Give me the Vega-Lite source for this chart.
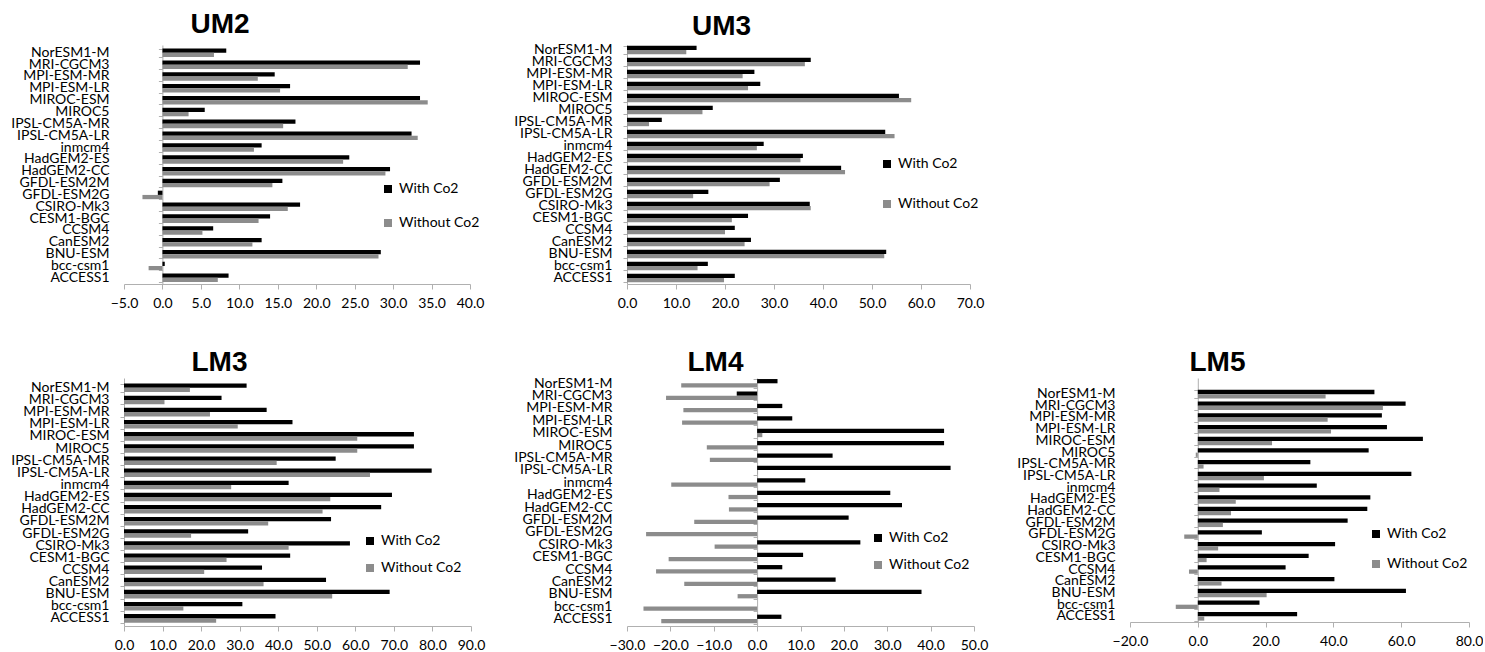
{
"$schema": "https://vega.github.io/schema/vega-lite/v6.json",
"padding": {"left": 10, "top": 11, "right": 0, "bottom": 0},
"bounds": "flush",
"columns": 3,
"spacing": {"row": 94, "column": 156},
"config": {
  "view": {"stroke": null},
  "font": "Lato",
  "axisX": {"domainColor": "#b0b0b0", "tickColor": "#b0b0b0", "tickSize": 5, "labelFont": "Lato", "labelFontSize": 14, "labelColor": "#000000", "labelPadding": 7, "labelOverlap": false, "labelFlush": false, "grid": false, "title": null, "format": ".1f"},
  "axisY": {"domain": false, "ticks": false, "labelFont": "Lato", "labelFontSize": 14, "labelColor": "#000000", "labelPadding": 15, "labelOverlap": false, "title": null, "grid": false},
  "legend": {"orient": "none", "title": null, "symbolType": "square", "symbolSize": 64, "symbolStrokeWidth": 0, "labelFont": "Lato", "labelFontSize": 14, "labelColor": "#000000"},
  "title": {"font": "Liberation Sans", "fontSize": 28, "fontWeight": "bold", "color": "#000000", "anchor": "middle", "frame": "group", "baseline": "alphabetic"}
},
"data": {"values": [
{"panel":"UM2","model":"NorESM1-M","series":"With Co2","value":8.3},{"panel":"UM2","model":"NorESM1-M","series":"Without Co2","value":6.7},
{"panel":"UM2","model":"MRI-CGCM3","series":"With Co2","value":33.5},{"panel":"UM2","model":"MRI-CGCM3","series":"Without Co2","value":31.9},
{"panel":"UM2","model":"MPI-ESM-MR","series":"With Co2","value":14.6},{"panel":"UM2","model":"MPI-ESM-MR","series":"Without Co2","value":12.4},
{"panel":"UM2","model":"MPI-ESM-LR","series":"With Co2","value":16.6},{"panel":"UM2","model":"MPI-ESM-LR","series":"Without Co2","value":15.3},
{"panel":"UM2","model":"MIROC-ESM","series":"With Co2","value":33.5},{"panel":"UM2","model":"MIROC-ESM","series":"Without Co2","value":34.5},
{"panel":"UM2","model":"MIROC5","series":"With Co2","value":5.5},{"panel":"UM2","model":"MIROC5","series":"Without Co2","value":3.4},
{"panel":"UM2","model":"IPSL-CM5A-MR","series":"With Co2","value":17.3},{"panel":"UM2","model":"IPSL-CM5A-MR","series":"Without Co2","value":15.7},
{"panel":"UM2","model":"IPSL-CM5A-LR","series":"With Co2","value":32.4},{"panel":"UM2","model":"IPSL-CM5A-LR","series":"Without Co2","value":33.2},
{"panel":"UM2","model":"inmcm4","series":"With Co2","value":12.9},{"panel":"UM2","model":"inmcm4","series":"Without Co2","value":11.9},
{"panel":"UM2","model":"HadGEM2-ES","series":"With Co2","value":24.3},{"panel":"UM2","model":"HadGEM2-ES","series":"Without Co2","value":23.5},
{"panel":"UM2","model":"HadGEM2-CC","series":"With Co2","value":29.6},{"panel":"UM2","model":"HadGEM2-CC","series":"Without Co2","value":29.0},
{"panel":"UM2","model":"GFDL-ESM2M","series":"With Co2","value":15.6},{"panel":"UM2","model":"GFDL-ESM2M","series":"Without Co2","value":14.3},
{"panel":"UM2","model":"GFDL-ESM2G","series":"With Co2","value":-0.6},{"panel":"UM2","model":"GFDL-ESM2G","series":"Without Co2","value":-2.6},
{"panel":"UM2","model":"CSIRO-Mk3","series":"With Co2","value":17.9},{"panel":"UM2","model":"CSIRO-Mk3","series":"Without Co2","value":16.3},
{"panel":"UM2","model":"CESM1-BGC","series":"With Co2","value":14.0},{"panel":"UM2","model":"CESM1-BGC","series":"Without Co2","value":12.5},
{"panel":"UM2","model":"CCSM4","series":"With Co2","value":6.6},{"panel":"UM2","model":"CCSM4","series":"Without Co2","value":5.2},
{"panel":"UM2","model":"CanESM2","series":"With Co2","value":12.9},{"panel":"UM2","model":"CanESM2","series":"Without Co2","value":11.7},
{"panel":"UM2","model":"BNU-ESM","series":"With Co2","value":28.4},{"panel":"UM2","model":"BNU-ESM","series":"Without Co2","value":28.1},
{"panel":"UM2","model":"bcc-csm1","series":"With Co2","value":0.3},{"panel":"UM2","model":"bcc-csm1","series":"Without Co2","value":-1.8},
{"panel":"UM2","model":"ACCESS1","series":"With Co2","value":8.6},{"panel":"UM2","model":"ACCESS1","series":"Without Co2","value":7.2},

{"panel":"UM3","model":"NorESM1-M","series":"With Co2","value":14.2},{"panel":"UM3","model":"NorESM1-M","series":"Without Co2","value":12.1},
{"panel":"UM3","model":"MRI-CGCM3","series":"With Co2","value":37.5},{"panel":"UM3","model":"MRI-CGCM3","series":"Without Co2","value":36.3},
{"panel":"UM3","model":"MPI-ESM-MR","series":"With Co2","value":26.0},{"panel":"UM3","model":"MPI-ESM-MR","series":"Without Co2","value":23.6},
{"panel":"UM3","model":"MPI-ESM-LR","series":"With Co2","value":27.2},{"panel":"UM3","model":"MPI-ESM-LR","series":"Without Co2","value":24.7},
{"panel":"UM3","model":"MIROC-ESM","series":"With Co2","value":55.5},{"panel":"UM3","model":"MIROC-ESM","series":"Without Co2","value":58.0},
{"panel":"UM3","model":"MIROC5","series":"With Co2","value":17.5},{"panel":"UM3","model":"MIROC5","series":"Without Co2","value":15.4},
{"panel":"UM3","model":"IPSL-CM5A-MR","series":"With Co2","value":7.1},{"panel":"UM3","model":"IPSL-CM5A-MR","series":"Without Co2","value":4.5},
{"panel":"UM3","model":"IPSL-CM5A-LR","series":"With Co2","value":52.7},{"panel":"UM3","model":"IPSL-CM5A-LR","series":"Without Co2","value":54.6},
{"panel":"UM3","model":"inmcm4","series":"With Co2","value":27.9},{"panel":"UM3","model":"inmcm4","series":"Without Co2","value":26.5},
{"panel":"UM3","model":"HadGEM2-ES","series":"With Co2","value":35.9},{"panel":"UM3","model":"HadGEM2-ES","series":"Without Co2","value":35.4},
{"panel":"UM3","model":"HadGEM2-CC","series":"With Co2","value":43.7},{"panel":"UM3","model":"HadGEM2-CC","series":"Without Co2","value":44.5},
{"panel":"UM3","model":"GFDL-ESM2M","series":"With Co2","value":31.2},{"panel":"UM3","model":"GFDL-ESM2M","series":"Without Co2","value":29.1},
{"panel":"UM3","model":"GFDL-ESM2G","series":"With Co2","value":16.6},{"panel":"UM3","model":"GFDL-ESM2G","series":"Without Co2","value":13.5},
{"panel":"UM3","model":"CSIRO-Mk3","series":"With Co2","value":37.3},{"panel":"UM3","model":"CSIRO-Mk3","series":"Without Co2","value":37.5},
{"panel":"UM3","model":"CESM1-BGC","series":"With Co2","value":24.7},{"panel":"UM3","model":"CESM1-BGC","series":"Without Co2","value":21.4},
{"panel":"UM3","model":"CCSM4","series":"With Co2","value":22.0},{"panel":"UM3","model":"CCSM4","series":"Without Co2","value":20.0},
{"panel":"UM3","model":"CanESM2","series":"With Co2","value":25.3},{"panel":"UM3","model":"CanESM2","series":"Without Co2","value":24.0},
{"panel":"UM3","model":"BNU-ESM","series":"With Co2","value":52.9},{"panel":"UM3","model":"BNU-ESM","series":"Without Co2","value":52.5},
{"panel":"UM3","model":"bcc-csm1","series":"With Co2","value":16.5},{"panel":"UM3","model":"bcc-csm1","series":"Without Co2","value":14.4},
{"panel":"UM3","model":"ACCESS1","series":"With Co2","value":22.0},{"panel":"UM3","model":"ACCESS1","series":"Without Co2","value":19.8},

{"panel":"LM3","model":"NorESM1-M","series":"With Co2","value":31.8},{"panel":"LM3","model":"NorESM1-M","series":"Without Co2","value":17.1},
{"panel":"LM3","model":"MRI-CGCM3","series":"With Co2","value":25.3},{"panel":"LM3","model":"MRI-CGCM3","series":"Without Co2","value":10.5},
{"panel":"LM3","model":"MPI-ESM-MR","series":"With Co2","value":37.0},{"panel":"LM3","model":"MPI-ESM-MR","series":"Without Co2","value":22.3},
{"panel":"LM3","model":"MPI-ESM-LR","series":"With Co2","value":43.7},{"panel":"LM3","model":"MPI-ESM-LR","series":"Without Co2","value":29.5},
{"panel":"LM3","model":"MIROC-ESM","series":"With Co2","value":75.2},{"panel":"LM3","model":"MIROC-ESM","series":"Without Co2","value":60.5},
{"panel":"LM3","model":"MIROC5","series":"With Co2","value":75.2},{"panel":"LM3","model":"MIROC5","series":"Without Co2","value":60.5},
{"panel":"LM3","model":"IPSL-CM5A-MR","series":"With Co2","value":54.9},{"panel":"LM3","model":"IPSL-CM5A-MR","series":"Without Co2","value":39.6},
{"panel":"LM3","model":"IPSL-CM5A-LR","series":"With Co2","value":79.8},{"panel":"LM3","model":"IPSL-CM5A-LR","series":"Without Co2","value":63.8},
{"panel":"LM3","model":"inmcm4","series":"With Co2","value":42.7},{"panel":"LM3","model":"inmcm4","series":"Without Co2","value":27.8},
{"panel":"LM3","model":"HadGEM2-ES","series":"With Co2","value":69.5},{"panel":"LM3","model":"HadGEM2-ES","series":"Without Co2","value":53.5},
{"panel":"LM3","model":"HadGEM2-CC","series":"With Co2","value":66.7},{"panel":"LM3","model":"HadGEM2-CC","series":"Without Co2","value":51.5},
{"panel":"LM3","model":"GFDL-ESM2M","series":"With Co2","value":53.7},{"panel":"LM3","model":"GFDL-ESM2M","series":"Without Co2","value":37.4},
{"panel":"LM3","model":"GFDL-ESM2G","series":"With Co2","value":32.2},{"panel":"LM3","model":"GFDL-ESM2G","series":"Without Co2","value":17.4},
{"panel":"LM3","model":"CSIRO-Mk3","series":"With Co2","value":58.6},{"panel":"LM3","model":"CSIRO-Mk3","series":"Without Co2","value":42.7},
{"panel":"LM3","model":"CESM1-BGC","series":"With Co2","value":43.1},{"panel":"LM3","model":"CESM1-BGC","series":"Without Co2","value":26.6},
{"panel":"LM3","model":"CCSM4","series":"With Co2","value":35.8},{"panel":"LM3","model":"CCSM4","series":"Without Co2","value":20.8},
{"panel":"LM3","model":"CanESM2","series":"With Co2","value":52.4},{"panel":"LM3","model":"CanESM2","series":"Without Co2","value":36.2},
{"panel":"LM3","model":"BNU-ESM","series":"With Co2","value":68.9},{"panel":"LM3","model":"BNU-ESM","series":"Without Co2","value":54.0},
{"panel":"LM3","model":"bcc-csm1","series":"With Co2","value":30.7},{"panel":"LM3","model":"bcc-csm1","series":"Without Co2","value":15.4},
{"panel":"LM3","model":"ACCESS1","series":"With Co2","value":39.3},{"panel":"LM3","model":"ACCESS1","series":"Without Co2","value":23.9},

{"panel":"LM4","model":"NorESM1-M","series":"With Co2","value":4.7},{"panel":"LM4","model":"NorESM1-M","series":"Without Co2","value":-17.5},
{"panel":"LM4","model":"MRI-CGCM3","series":"With Co2","value":-4.7},{"panel":"LM4","model":"MRI-CGCM3","series":"Without Co2","value":-21.0},
{"panel":"LM4","model":"MPI-ESM-MR","series":"With Co2","value":5.8},{"panel":"LM4","model":"MPI-ESM-MR","series":"Without Co2","value":-17.0},
{"panel":"LM4","model":"MPI-ESM-LR","series":"With Co2","value":8.1},{"panel":"LM4","model":"MPI-ESM-LR","series":"Without Co2","value":-17.3},
{"panel":"LM4","model":"MIROC-ESM","series":"With Co2","value":43.1},{"panel":"LM4","model":"MIROC-ESM","series":"Without Co2","value":1.2},
{"panel":"LM4","model":"MIROC5","series":"With Co2","value":43.1},{"panel":"LM4","model":"MIROC5","series":"Without Co2","value":-11.6},
{"panel":"LM4","model":"IPSL-CM5A-MR","series":"With Co2","value":17.4},{"panel":"LM4","model":"IPSL-CM5A-MR","series":"Without Co2","value":-10.9},
{"panel":"LM4","model":"IPSL-CM5A-LR","series":"With Co2","value":44.6},{"panel":"LM4","model":"IPSL-CM5A-LR","series":"Without Co2","value":0.1},
{"panel":"LM4","model":"inmcm4","series":"With Co2","value":11.1},{"panel":"LM4","model":"inmcm4","series":"Without Co2","value":-19.8},
{"panel":"LM4","model":"HadGEM2-ES","series":"With Co2","value":30.7},{"panel":"LM4","model":"HadGEM2-ES","series":"Without Co2","value":-6.6},
{"panel":"LM4","model":"HadGEM2-CC","series":"With Co2","value":33.4},{"panel":"LM4","model":"HadGEM2-CC","series":"Without Co2","value":-6.5},
{"panel":"LM4","model":"GFDL-ESM2M","series":"With Co2","value":21.1},{"panel":"LM4","model":"GFDL-ESM2M","series":"Without Co2","value":-14.5},
{"panel":"LM4","model":"GFDL-ESM2G","series":"With Co2","value":0.0},{"panel":"LM4","model":"GFDL-ESM2G","series":"Without Co2","value":-25.6},
{"panel":"LM4","model":"CSIRO-Mk3","series":"With Co2","value":23.8},{"panel":"LM4","model":"CSIRO-Mk3","series":"Without Co2","value":-9.8},
{"panel":"LM4","model":"CESM1-BGC","series":"With Co2","value":10.6},{"panel":"LM4","model":"CESM1-BGC","series":"Without Co2","value":-20.4},
{"panel":"LM4","model":"CCSM4","series":"With Co2","value":5.8},{"panel":"LM4","model":"CCSM4","series":"Without Co2","value":-23.3},
{"panel":"LM4","model":"CanESM2","series":"With Co2","value":18.1},{"panel":"LM4","model":"CanESM2","series":"Without Co2","value":-16.8},
{"panel":"LM4","model":"BNU-ESM","series":"With Co2","value":37.9},{"panel":"LM4","model":"BNU-ESM","series":"Without Co2","value":-4.5},
{"panel":"LM4","model":"bcc-csm1","series":"With Co2","value":0.0},{"panel":"LM4","model":"bcc-csm1","series":"Without Co2","value":-26.2},
{"panel":"LM4","model":"ACCESS1","series":"With Co2","value":5.6},{"panel":"LM4","model":"ACCESS1","series":"Without Co2","value":-22.1},

{"panel":"LM5","model":"NorESM1-M","series":"With Co2","value":52.1},{"panel":"LM5","model":"NorESM1-M","series":"Without Co2","value":37.7},
{"panel":"LM5","model":"MRI-CGCM3","series":"With Co2","value":61.3},{"panel":"LM5","model":"MRI-CGCM3","series":"Without Co2","value":54.6},
{"panel":"LM5","model":"MPI-ESM-MR","series":"With Co2","value":54.3},{"panel":"LM5","model":"MPI-ESM-MR","series":"Without Co2","value":38.3},
{"panel":"LM5","model":"MPI-ESM-LR","series":"With Co2","value":55.8},{"panel":"LM5","model":"MPI-ESM-LR","series":"Without Co2","value":39.3},
{"panel":"LM5","model":"MIROC-ESM","series":"With Co2","value":66.4},{"panel":"LM5","model":"MIROC-ESM","series":"Without Co2","value":21.9},
{"panel":"LM5","model":"MIROC5","series":"With Co2","value":50.4},{"panel":"LM5","model":"MIROC5","series":"Without Co2","value":-0.6},
{"panel":"LM5","model":"IPSL-CM5A-MR","series":"With Co2","value":33.2},{"panel":"LM5","model":"IPSL-CM5A-MR","series":"Without Co2","value":1.7},
{"panel":"LM5","model":"IPSL-CM5A-LR","series":"With Co2","value":63.0},{"panel":"LM5","model":"IPSL-CM5A-LR","series":"Without Co2","value":19.5},
{"panel":"LM5","model":"inmcm4","series":"With Co2","value":35.1},{"panel":"LM5","model":"inmcm4","series":"Without Co2","value":6.4},
{"panel":"LM5","model":"HadGEM2-ES","series":"With Co2","value":50.9},{"panel":"LM5","model":"HadGEM2-ES","series":"Without Co2","value":11.2},
{"panel":"LM5","model":"HadGEM2-CC","series":"With Co2","value":50.0},{"panel":"LM5","model":"HadGEM2-CC","series":"Without Co2","value":9.8},
{"panel":"LM5","model":"GFDL-ESM2M","series":"With Co2","value":44.2},{"panel":"LM5","model":"GFDL-ESM2M","series":"Without Co2","value":7.4},
{"panel":"LM5","model":"GFDL-ESM2G","series":"With Co2","value":18.9},{"panel":"LM5","model":"GFDL-ESM2G","series":"Without Co2","value":-4.0},
{"panel":"LM5","model":"CSIRO-Mk3","series":"With Co2","value":40.5},{"panel":"LM5","model":"CSIRO-Mk3","series":"Without Co2","value":6.0},
{"panel":"LM5","model":"CESM1-BGC","series":"With Co2","value":32.7},{"panel":"LM5","model":"CESM1-BGC","series":"Without Co2","value":2.6},
{"panel":"LM5","model":"CCSM4","series":"With Co2","value":25.9},{"panel":"LM5","model":"CCSM4","series":"Without Co2","value":-2.6},
{"panel":"LM5","model":"CanESM2","series":"With Co2","value":40.3},{"panel":"LM5","model":"CanESM2","series":"Without Co2","value":7.0},
{"panel":"LM5","model":"BNU-ESM","series":"With Co2","value":61.4},{"panel":"LM5","model":"BNU-ESM","series":"Without Co2","value":20.3},
{"panel":"LM5","model":"bcc-csm1","series":"With Co2","value":18.2},{"panel":"LM5","model":"bcc-csm1","series":"Without Co2","value":-6.5},
{"panel":"LM5","model":"ACCESS1","series":"With Co2","value":29.3},{"panel":"LM5","model":"ACCESS1","series":"Without Co2","value":1.9}
]},
"resolve": {"scale": {"color": "independent"}, "legend": {"color": "independent"}},
"concat": [
  {
   "title": {"text": "UM2", "dx": -77, "offset": 6},
   "width": 346, "height": 239,
   "transform": [{"filter": "datum.panel === 'UM2'"}],
   "resolve": {"axis": {"y": "independent"}},
   "layer": [
    {"mark": {"type": "bar"},
     "encoding": {
      "y": {"field": "model", "type": "nominal", "sort": ["NorESM1-M","MRI-CGCM3","MPI-ESM-MR","MPI-ESM-LR","MIROC-ESM","MIROC5","IPSL-CM5A-MR","IPSL-CM5A-LR","inmcm4","HadGEM2-ES","HadGEM2-CC","GFDL-ESM2M","GFDL-ESM2G","CSIRO-Mk3","CESM1-BGC","CCSM4","CanESM2","BNU-ESM","bcc-csm1","ACCESS1"], "scale": {"paddingInner": 0.28, "paddingOuter": 0.23, "align": 0.65}},
      "yOffset": {"field": "series", "type": "nominal", "sort": ["With Co2", "Without Co2"]},
      "x": {"field": "value", "type": "quantitative", "scale": {"domain": [-5, 40], "nice": false, "zero": false}, "axis": {"values": [-5, 0, 5, 10, 15, 20, 25, 30, 35, 40], "labelOverlap": false, "labelFlush": false}},
      "color": {"field": "series", "type": "nominal", "scale": {"domain": ["With Co2", "Without Co2"], "range": ["#000000", "#8c8c8c"]}, "legend": {"legendX": 257, "legendY": 137, "rowPadding": 20}}
     }},
    {"mark": {"type": "bar", "opacity": 0},
     "encoding": {
      "y": {"field": "model", "type": "nominal", "sort": ["NorESM1-M","MRI-CGCM3","MPI-ESM-MR","MPI-ESM-LR","MIROC-ESM","MIROC5","IPSL-CM5A-MR","IPSL-CM5A-LR","inmcm4","HadGEM2-ES","HadGEM2-CC","GFDL-ESM2M","GFDL-ESM2G","CSIRO-Mk3","CESM1-BGC","CCSM4","CanESM2","BNU-ESM","bcc-csm1","ACCESS1"], "axis": {"orient": "left", "offset": -38.4, "labels": false, "domain": true, "domainColor": "#b0b0b0", "ticks": true, "tickColor": "#b0b0b0", "tickSize": 4, "tickBand": "extent"}}
     }}
   ]
  },
  {
   "title": {"text": "UM3", "dx": -77, "offset": 1},
   "width": 343, "height": 239,
   "transform": [{"filter": "datum.panel === 'UM3'"}],
   "resolve": {"axis": {"y": "independent"}},
   "layer": [
    {"mark": {"type": "bar"},
     "encoding": {
      "y": {"field": "model", "type": "nominal", "sort": ["NorESM1-M","MRI-CGCM3","MPI-ESM-MR","MPI-ESM-LR","MIROC-ESM","MIROC5","IPSL-CM5A-MR","IPSL-CM5A-LR","inmcm4","HadGEM2-ES","HadGEM2-CC","GFDL-ESM2M","GFDL-ESM2G","CSIRO-Mk3","CESM1-BGC","CCSM4","CanESM2","BNU-ESM","bcc-csm1","ACCESS1"], "scale": {"paddingInner": 0.28, "paddingOuter": 0.1, "align": 0.28}},
      "yOffset": {"field": "series", "type": "nominal", "sort": ["With Co2", "Without Co2"]},
      "x": {"field": "value", "type": "quantitative", "scale": {"domain": [0, 70], "nice": false}, "axis": {"values": [0, 10, 20, 30, 40, 50, 60, 70], "labelOverlap": false, "labelFlush": false}},
      "color": {"field": "series", "type": "nominal", "scale": {"domain": ["With Co2", "Without Co2"], "range": ["#000000", "#8c8c8c"]}, "legend": {"legendX": 253, "legendY": 112, "rowPadding": 26}}
     }},
    {"mark": {"type": "bar", "opacity": 0},
     "encoding": {
      "y": {"field": "model", "type": "nominal", "sort": ["NorESM1-M","MRI-CGCM3","MPI-ESM-MR","MPI-ESM-LR","MIROC-ESM","MIROC5","IPSL-CM5A-MR","IPSL-CM5A-LR","inmcm4","HadGEM2-ES","HadGEM2-CC","GFDL-ESM2M","GFDL-ESM2G","CSIRO-Mk3","CESM1-BGC","CCSM4","CanESM2","BNU-ESM","bcc-csm1","ACCESS1"], "axis": {"orient": "left", "offset": 0, "labels": false, "domain": true, "domainColor": "#b0b0b0", "ticks": true, "tickColor": "#b0b0b0", "tickSize": 4, "tickBand": "extent"}}
     }}
   ]
  },
  {
   "width": 10, "height": 10,
   "data": {"values": [{}]},
   "mark": {"type": "point", "opacity": 0},
   "encoding": {}
  },
  {
   "title": {"text": "LM3", "dx": -78, "offset": 1},
   "width": 347, "height": 248,
   "transform": [{"filter": "datum.panel === 'LM3'"}],
   "resolve": {"axis": {"y": "independent"}},
   "layer": [
    {"mark": {"type": "bar"},
     "encoding": {
      "y": {"field": "model", "type": "nominal", "sort": ["NorESM1-M","MRI-CGCM3","MPI-ESM-MR","MPI-ESM-LR","MIROC-ESM","MIROC5","IPSL-CM5A-MR","IPSL-CM5A-LR","inmcm4","HadGEM2-ES","HadGEM2-CC","GFDL-ESM2M","GFDL-ESM2G","CSIRO-Mk3","CESM1-BGC","CCSM4","CanESM2","BNU-ESM","bcc-csm1","ACCESS1"], "scale": {"paddingInner": 0.28, "paddingOuter": 0.36, "align": 0.64}},
      "yOffset": {"field": "series", "type": "nominal", "sort": ["With Co2", "Without Co2"]},
      "x": {"field": "value", "type": "quantitative", "scale": {"domain": [0, 90], "nice": false}, "axis": {"values": [0, 10, 20, 30, 40, 50, 60, 70, 80, 90], "labelOverlap": false, "labelFlush": false}},
      "color": {"field": "series", "type": "nominal", "scale": {"domain": ["With Co2", "Without Co2"], "range": ["#000000", "#8c8c8c"]}, "legend": {"legendX": 239, "legendY": 156, "rowPadding": 13}}
     }},
    {"mark": {"type": "bar", "opacity": 0},
     "encoding": {
      "y": {"field": "model", "type": "nominal", "sort": ["NorESM1-M","MRI-CGCM3","MPI-ESM-MR","MPI-ESM-LR","MIROC-ESM","MIROC5","IPSL-CM5A-MR","IPSL-CM5A-LR","inmcm4","HadGEM2-ES","HadGEM2-CC","GFDL-ESM2M","GFDL-ESM2G","CSIRO-Mk3","CESM1-BGC","CCSM4","CanESM2","BNU-ESM","bcc-csm1","ACCESS1"], "axis": {"orient": "left", "offset": 0, "labels": false, "domain": true, "domainColor": "#b0b0b0", "ticks": true, "tickColor": "#b0b0b0", "tickSize": 4, "tickBand": "extent"}}
     }}
   ]
  },
  {
   "title": {"text": "LM4", "dx": -85, "offset": -1},
   "width": 347, "height": 248,
   "transform": [{"filter": "datum.panel === 'LM4'"}],
   "resolve": {"axis": {"y": "independent"}},
   "layer": [
    {"mark": {"type": "bar"},
     "encoding": {
      "y": {"field": "model", "type": "nominal", "sort": ["NorESM1-M","MRI-CGCM3","MPI-ESM-MR","MPI-ESM-LR","MIROC-ESM","MIROC5","IPSL-CM5A-MR","IPSL-CM5A-LR","inmcm4","HadGEM2-ES","HadGEM2-CC","GFDL-ESM2M","GFDL-ESM2G","CSIRO-Mk3","CESM1-BGC","CCSM4","CanESM2","BNU-ESM","bcc-csm1","ACCESS1"], "scale": {"paddingInner": 0.28, "paddingOuter": 0.14, "align": 0.3}},
      "yOffset": {"field": "series", "type": "nominal", "sort": ["With Co2", "Without Co2"]},
      "x": {"field": "value", "type": "quantitative", "scale": {"domain": [-30, 50], "nice": false}, "axis": {"values": [-30, -20, -10, 0, 10, 20, 30, 40, 50], "labelOverlap": false, "labelFlush": false}},
      "color": {"field": "series", "type": "nominal", "scale": {"domain": ["With Co2", "Without Co2"], "range": ["#000000", "#8c8c8c"]}, "legend": {"legendX": 244, "legendY": 153, "rowPadding": 13}}
     }},
    {"mark": {"type": "bar", "opacity": 0},
     "encoding": {
      "y": {"field": "model", "type": "nominal", "sort": ["NorESM1-M","MRI-CGCM3","MPI-ESM-MR","MPI-ESM-LR","MIROC-ESM","MIROC5","IPSL-CM5A-MR","IPSL-CM5A-LR","inmcm4","HadGEM2-ES","HadGEM2-CC","GFDL-ESM2M","GFDL-ESM2G","CSIRO-Mk3","CESM1-BGC","CCSM4","CanESM2","BNU-ESM","bcc-csm1","ACCESS1"], "axis": {"orient": "left", "offset": -130.1, "labels": false, "domain": true, "domainColor": "#b0b0b0", "ticks": true, "tickColor": "#b0b0b0", "tickSize": 4, "tickBand": "extent"}}
     }}
   ]
  },
  {
   "title": {"text": "LM5", "dx": -82, "offset": 1},
   "width": 339, "height": 244,
   "transform": [{"filter": "datum.panel === 'LM5'"}],
   "resolve": {"axis": {"y": "independent"}},
   "layer": [
    {"mark": {"type": "bar"},
     "encoding": {
      "y": {"field": "model", "type": "nominal", "sort": ["NorESM1-M","MRI-CGCM3","MPI-ESM-MR","MPI-ESM-LR","MIROC-ESM","MIROC5","IPSL-CM5A-MR","IPSL-CM5A-LR","inmcm4","HadGEM2-ES","HadGEM2-CC","GFDL-ESM2M","GFDL-ESM2G","CSIRO-Mk3","CESM1-BGC","CCSM4","CanESM2","BNU-ESM","bcc-csm1","ACCESS1"], "scale": {"paddingInner": 0.28, "paddingOuter": 0.57, "align": 0.89}},
      "yOffset": {"field": "series", "type": "nominal", "sort": ["With Co2", "Without Co2"]},
      "x": {"field": "value", "type": "quantitative", "scale": {"domain": [-20, 80], "nice": false}, "axis": {"values": [-20, 0, 20, 40, 60, 80], "labelOverlap": false, "labelFlush": false}},
      "color": {"field": "series", "type": "nominal", "scale": {"domain": ["With Co2", "Without Co2"], "range": ["#000000", "#8c8c8c"]}, "legend": {"legendX": 239, "legendY": 149, "rowPadding": 16}}
     }},
    {"mark": {"type": "bar", "opacity": 0},
     "encoding": {
      "y": {"field": "model", "type": "nominal", "sort": ["NorESM1-M","MRI-CGCM3","MPI-ESM-MR","MPI-ESM-LR","MIROC-ESM","MIROC5","IPSL-CM5A-MR","IPSL-CM5A-LR","inmcm4","HadGEM2-ES","HadGEM2-CC","GFDL-ESM2M","GFDL-ESM2G","CSIRO-Mk3","CESM1-BGC","CCSM4","CanESM2","BNU-ESM","bcc-csm1","ACCESS1"], "axis": {"orient": "left", "offset": -67.8, "labels": false, "domain": true, "domainColor": "#b0b0b0", "ticks": true, "tickColor": "#b0b0b0", "tickSize": 4, "tickBand": "extent"}}
     }}
   ]
  }
]
}
